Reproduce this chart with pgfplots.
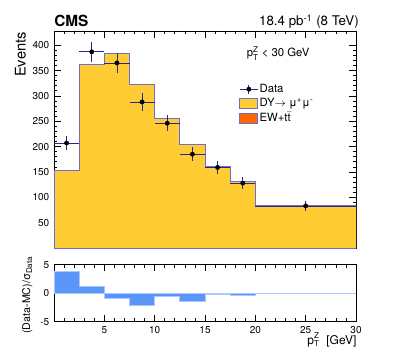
\documentclass[border=0pt]{standalone}
\usepackage{pgfplots}
\pgfplotsset{compat=1.18}
\usepackage{amsmath}
\usepackage{fontspec}
\setmainfont{TeX Gyre Heros}
\setsansfont{TeX Gyre Heros}

\definecolor{dyyellow}{RGB}{255,204,51}
\definecolor{mcblue}{RGB}{110,110,210}
\definecolor{eworange}{RGB}{255,102,0}
\definecolor{datab}{RGB}{40,40,140}
\definecolor{ratioblue}{RGB}{90,150,250}
\definecolor{ratioedge}{RGB}{170,200,255}

\pgfplotsset{
  cmsstyle/.style={
    scale only axis, width=226.5pt,
    xmin=0, xmax=30,
    tick align=inside,
    major tick length=5pt, minor tick length=2.5pt,
    axis line style={line width=0.7pt},
    tick style={black, line width=0.5pt},
    tick label style={font=\fontsize{7.5}{9}\selectfont},
    /pgf/number format/assume math mode=true,
  },
}

\begin{document}
\begin{tikzpicture}
\useasboundingbox (0,0) rectangle (299.25pt,-269.25pt);

% main panel
\begin{axis}[cmsstyle,
    at={(40.5pt,-186pt)}, anchor=south west,
    height=162.75pt,
    ymin=0, ymax=428,
    xtick={0,5,...,30}, xticklabel=\empty,
    minor x tick num=4,
    ytick={50,100,...,400},
    minor y tick num=4,
    legend style={at={(0.6,0.775)}, anchor=north west, draw=none, fill=none,
      font=\fontsize{8.5}{10}\selectfont, row sep=1pt,
      nodes={inner sep=1pt}},
    legend cell align=left,
  ]
  \addplot[const plot, fill=dyyellow, draw=mcblue, line width=0.7pt, forget plot]
    coordinates {(0,152)(2.5,362.6)(5,383.6)(7.5,322.5)(10,254.8)
                 (12.5,204.3)(15,161.6)(17.5,132)(20,83.4)(30,83.4)} \closedcycle;
  \addplot[only marks, mark=*, mark size=1.6pt, black, forget plot,
    error bars/.cd, x dir=both, x explicit, y dir=both, y explicit,
    error bar style={datab, line width=0.6pt}, error mark=none]
    table[x=x, y=y, x error=ex, y error=ey] {
      x      y    ex    ey
      1.25   207  1.25  14.4
      3.75   387  1.25  19.7
      6.25   365  1.25  19.1
      8.75   288  1.25  17.0
      11.25  246  1.25  15.7
      13.75  185  1.25  13.6
      16.25  159  1.25  12.6
      18.75  128  1.25  11.3
      25     83   5     9.1
    };
  \addlegendimage{legend image code/.code={
      \draw[datab, line width=0.6pt] (0pt,0pt) -- (13.5pt,0pt);
      \draw[datab, line width=0.6pt] (6.75pt,-3.5pt) -- (6.75pt,3.5pt);
      \fill[black] (6.75pt,0pt) circle (1.6pt);}}
  \addlegendentry{Data}
  \addlegendimage{legend image code/.code={
      \draw[fill=dyyellow, draw=mcblue, line width=0.6pt] (0pt,-3.75pt) rectangle (13.5pt,3.75pt);}}
  \addlegendentry{DY$\rightarrow$ μ\textsuperscript{+}μ\textsuperscript{-}}
  \addlegendimage{legend image code/.code={
      \draw[fill=eworange, draw=mcblue, line width=0.6pt] (0pt,-3.75pt) rectangle (13.5pt,3.75pt);}}
  \addlegendentry{EW+t$\bar{\text{t}}$}
\end{axis}

% ratio panel
\begin{axis}[cmsstyle,
    at={(40.5pt,-241.3pt)}, anchor=south west,
    height=42.75pt,
    ymin=-5, ymax=5,
    xtick={0,5,...,30}, xticklabels={,5,10,15,20,25,30},
    minor x tick num=4,
    ytick={-5,0,5},
  ]
  \addplot[const plot, fill=ratioblue, draw=ratioedge, line width=0.6pt]
    coordinates {(0,3.8)(2.5,1.25)(5,-0.95)(7.5,-2.05)(10,-0.55)
                 (12.5,-1.45)(15,-0.15)(17.5,-0.4)(20,0)(30,0)} \closedcycle;
\end{axis}

% texts
\node[anchor=base west, inner sep=0pt, font=\bfseries\fontsize{11.5}{13}\selectfont]
  at (40.5pt,-20pt) {CMS};
\node[anchor=base east, inner sep=0pt, font=\fontsize{10}{12}\selectfont]
  at (269.25pt,-19.5pt) {18.4 pb\textsuperscript{-1} (8 TeV)};
\node[anchor=base west, inner sep=0pt, font=\fontsize{8.5}{10}\selectfont]
  at (185pt,-42.5pt) {p$^{\text{Z}}_{\text{T}}$ < 30 GeV};
\node[rotate=90, anchor=base east, inner sep=0pt, font=\fontsize{11}{13}\selectfont]
  at (19.3pt,-24pt) {Events};
\node[rotate=90, anchor=base, inner sep=0pt, font=\fontsize{8}{10}\selectfont]
  at (22.5pt,-221.25pt) {(Data-MC)/σ\textsubscript{Data}};
\node[anchor=base east, inner sep=0pt, font=\fontsize{9}{11}\selectfont]
  at (267.5pt,-258pt) {p$^{\text{Z}}_{\text{T}}$ \ [GeV]};
\end{tikzpicture}
\end{document}
